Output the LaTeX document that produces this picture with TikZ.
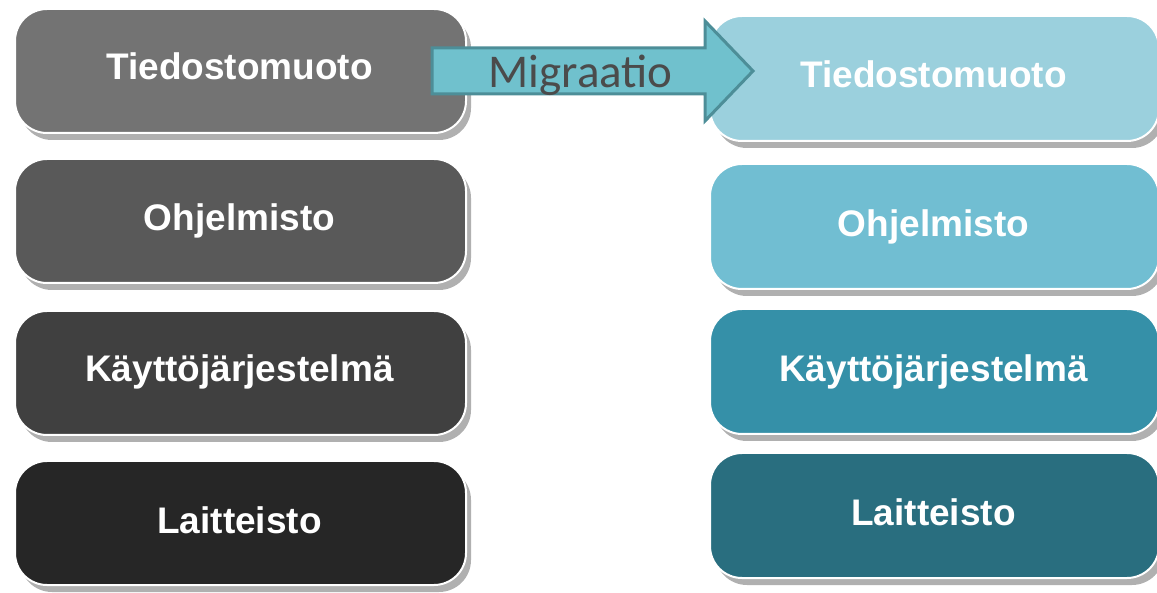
\documentclass[tikz,border=0pt]{standalone}
\usepackage{fontspec}
\setmainfont{Liberation Sans}
\newfontfamily\arrowfont{Carlito}
\usetikzlibrary{shadows}

\definecolor{greyA}{HTML}{737373}
\definecolor{greyB}{HTML}{595959}
\definecolor{greyC}{HTML}{404040}
\definecolor{greyD}{HTML}{262626}
\definecolor{tealA}{HTML}{9BD0DD}
\definecolor{tealB}{HTML}{71BED2}
\definecolor{tealC}{HTML}{3590A8}
\definecolor{tealD}{HTML}{296E7F}
\definecolor{shadowgrey}{HTML}{B0B0B0}
\definecolor{arrowfill}{HTML}{70C1CD}
\definecolor{arrowline}{HTML}{4D8E98}
\definecolor{arrowtext}{HTML}{4B4B4B}

\tikzset{
  layerbox/.style={draw=white, line width=2pt, rounded corners=32pt,
    anchor=north west, inner sep=0pt,
    drop shadow={shadow xshift=5pt, shadow yshift=-7pt, fill=shadowgrey, opacity=1}},
  leftbox/.style={layerbox, minimum width=451pt, minimum height=124pt},
  rightbox/.style={layerbox, minimum width=449pt, minimum height=125pt},
  layertext/.style={text=white, font=\bfseries\fontsize{37}{44}\selectfont,
    anchor=base, inner sep=0pt},
  migarrow/.style={fill=arrowfill, draw=arrowline, line width=3pt, line join=miter},
  migtext/.style={text=arrowtext, font=\arrowfont\fontsize{47}{56}\selectfont,
    anchor=base, inner sep=0pt}
}

\begin{document}
\begin{tikzpicture}[x=1pt, y=-1pt]
  \useasboundingbox (0,0) rectangle (1157,593);

  % source stack
  \node[leftbox, fill=greyA] (l1) at (14,8)   {};
  \node[leftbox, fill=greyB] (l2) at (14,158) {};
  \node[leftbox, fill=greyC] (l3) at (14,310) {};
  \node[leftbox, fill=greyD] (l4) at (14,460) {};

  % target stack
  \node[rightbox, fill=tealA] (r1) at (709,15)  {};
  \node[rightbox, fill=tealB] (r2) at (709,163) {};
  \node[rightbox, fill=tealC] (r3) at (709,308) {};
  \node[rightbox, fill=tealD] (r4) at (709,452) {};

  % layer names
  \node[layertext] (l1t) at (239.5,80)  {Tiedostomuoto};
  \node[layertext] (l2t) at (239.5,231) {Ohjelmisto};
  \node[layertext] (l3t) at (239.5,382) {Käyttöjärjestelmä};
  \node[layertext] (l4t) at (239.5,533) {Laitteisto};

  \node[layertext] (r1t) at (933.5,88)  {Tiedostomuoto};
  \node[layertext] (r2t) at (933.5,237) {Ohjelmisto};
  \node[layertext] (r3t) at (933.5,382) {Käyttöjärjestelmä};
  \node[layertext] (r4t) at (933.5,525) {Laitteisto};

  % block arrow between the top layers
  \draw[migarrow] (432,48) -- (705,48) -- (705,21) -- (753,71)
    -- (705,121) -- (705,94) -- (432,94) -- cycle;
  \node[migtext] (mig) at (580.5,88) {Migraatio};
\end{tikzpicture}
\end{document}
